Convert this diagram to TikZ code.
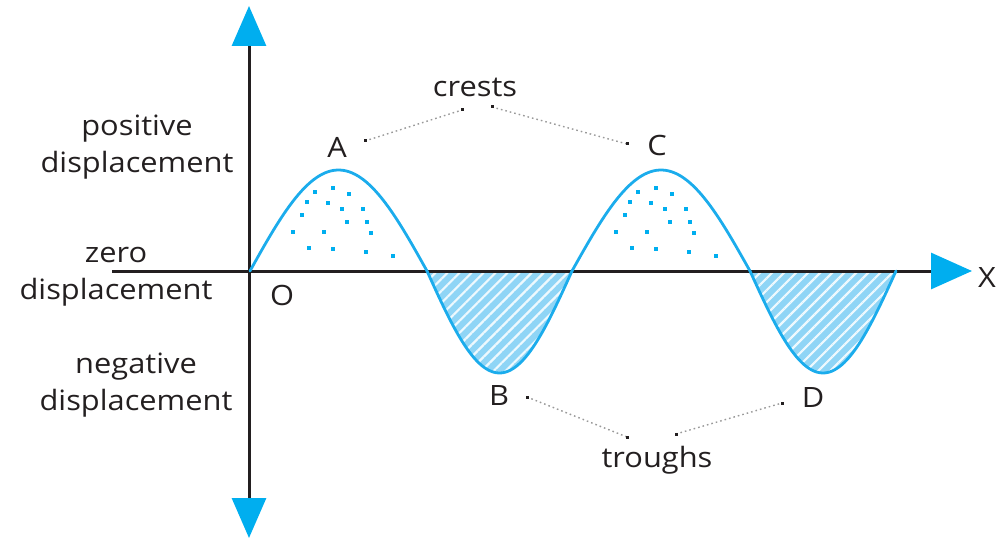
\documentclass[tikz,border=0pt]{standalone}
\usepackage{fontspec}
\setmainfont{Open Sans}[FakeStretch=1.1]
\usetikzlibrary{arrows.meta,patterns.meta}
\definecolor{cyanA}{RGB}{0,174,239}
\definecolor{waveC}{RGB}{27,172,236}
\definecolor{fillC}{RGB}{143,213,246}
\definecolor{txt}{RGB}{35,31,32}
\begin{document}
\begin{tikzpicture}[x=1pt,y=-1pt,
  lbl/.style={font=\fontsize{28}{37}\selectfont, text=txt, inner sep=0pt, align=center},
  axisline/.style={line width=3pt, draw=txt},
  wave/.style={line width=2.8pt, draw=waveC, line cap=round, line join=round},
  conn/.style={draw=black!40, line width=1.4pt, dash pattern=on 1.6pt off 3pt},
  endsq/.style={fill=txt},
  dotsq/.style={fill=cyanA},
  stripes/.style={pattern={Lines[angle=45,distance=8.5pt,line width=2.2pt]}, pattern color=white!85!fillC}
]
\useasboundingbox (0,0) rectangle (1001,540);

% trough fills
\fill[fillC] plot[domain=427:572,samples=60] (\x,{271+102*sin(1.24138*(\x-427))}) -- cycle;
\fill[stripes] plot[domain=427:572,samples=60] (\x,{271+102*sin(1.24138*(\x-427))}) -- cycle;
\fill[fillC] plot[domain=750:896,samples=60] (\x,{271+102*sin(1.23288*(\x-750))}) -- cycle;
\fill[stripes] plot[domain=750:896,samples=60] (\x,{271+102*sin(1.23288*(\x-750))}) -- cycle;

% axes
\coordinate (xs) at (112,271);
\coordinate (xe) at (972,271);
\coordinate (yt) at (249,6);
\coordinate (yb) at (249,538);
\draw[axisline, -{Triangle[width=36pt,length=41pt,color=cyanA]}] (xs) -- (xe);
\draw[axisline, {Triangle[width=34pt,length=40pt,color=cyanA]}-{Triangle[width=34pt,length=40pt,color=cyanA]}] (yt) -- (yb);

% wave
\draw[wave] plot[domain=250:427,samples=60] (\x,{271-101*sin(1.01695*(\x-250))});
\draw[wave] plot[domain=427:572,samples=60] (\x,{271+102*sin(1.24138*(\x-427))});
\draw[wave] plot[domain=572:750,samples=60] (\x,{271-101*sin(1.01124*(\x-572))});
\draw[wave] plot[domain=750:896,samples=60] (\x,{271+102*sin(1.23288*(\x-750))});

% crest dots
\foreach \s in {0,323}{
  \begin{scope}[xshift=\s pt]
  \foreach \px/\py in {315/192,333/188,349/194,307/202,328/203,342/209,363/209,302/215,347/222,367/222,293/232,324/232,371/233,309/248,333/249,366/252,393/256}
    \fill[dotsq] (\px-1.8,\py-1.8) rectangle ++(3.6,3.6);
  \end{scope}
}

% labels
\node[lbl] (pos) at (137,147) {positive\\displacement};
\node[lbl] (zero) at (116,277) {zero\\displacement};
\node[lbl] (neg) at (136,385) {negative\\displacement};
\node[lbl, anchor=base] (crests) at (475,97) {crests};
\node[lbl, anchor=base] (A) at (337,158) {A};
\node[lbl, anchor=base] (C) at (657,156) {C};
\node[lbl, anchor=base] (B) at (499,405) {B};
\node[lbl, anchor=base] (D) at (813,407) {D};
\node[lbl, anchor=base] (troughs) at (657,467) {troughs};
\node[lbl, anchor=base] (O) at (282,305) {O};
\node[lbl, anchor=base] (X) at (987,287) {X};

% connectors
\coordinate (cA) at (365,141);
\coordinate (cc1) at (462,110);
\coordinate (cc2) at (492,107);
\coordinate (cC) at (627,144);
\coordinate (tB) at (527,397);
\coordinate (tt1) at (627,437);
\coordinate (tt2) at (676,434);
\coordinate (tD) at (782,403);
\draw[conn] (cA) -- (cc1);
\draw[conn] (cc2) -- (cC);
\draw[conn] (tB) -- (tt1);
\draw[conn] (tt2) -- (tD);
\foreach \c in {cA,cc1,cc2,cC,tB,tt1,tt2,tD}
  \fill[endsq] (\c) ++(-1.5,-1.5) rectangle ++(3,3);
\end{tikzpicture}
\end{document}
